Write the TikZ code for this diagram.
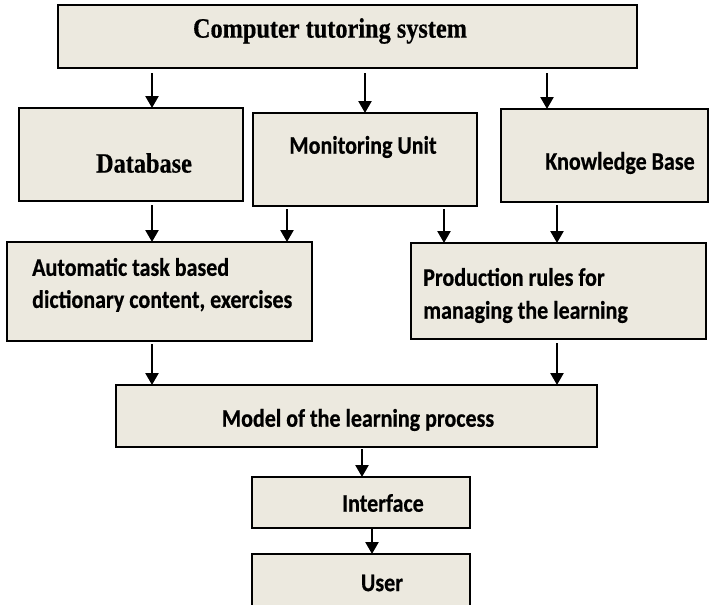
\documentclass[tikz,border=0pt]{standalone}
\usepackage{fontspec}
\setmainfont{Liberation Serif}[BoldFeatures={FakeBold=0.6}]
\newfontfamily\carl{Carlito}[BoldFeatures={FakeBold=0.6}]
\usetikzlibrary{arrows.meta,calc}
\definecolor{boxfill}{RGB}{236,233,223}
% slightly tall lettering
\newcommand{\tallbox}[1]{\scalebox{1}[1.15]{#1}}
\tikzset{
  box/.style={fill=boxfill, draw=black, line width=2pt, inner sep=0pt, outer sep=0pt},
  arr/.style={line width=2.4pt, -{Triangle[length=12pt,width=13pt]}},
  serifbold/.style={font=\fontsize{24.3}{28}\selectfont\bfseries, inner sep=0pt},
  sansbold/.style={font=\carl\fontsize{22}{26}\selectfont\bfseries, inner sep=0pt},
}
\begin{document}
\begin{tikzpicture}[x=1pt,y=-1pt]
\useasboundingbox[fill=white] (0,0) rectangle (710,605);

% boxes
\node[box, minimum width=579pt, minimum height=63pt] (title) at (347.5,36.5) {};
\node[box, minimum width=224pt, minimum height=93pt] (db)    at (131,154.5) {};
\node[box, minimum width=224pt, minimum height=93pt] (mon)   at (365,159.5) {};
\node[box, minimum width=207pt, minimum height=93pt] (kb)    at (604.5,155.5) {};
\node[box, minimum width=305pt, minimum height=99pt] (auto)  at (159.5,291.5) {};
\node[box, minimum width=295pt, minimum height=96pt] (prod)  at (558.5,291) {};
\node[box, minimum width=481pt, minimum height=62pt] (model) at (356.5,416) {};
\node[box, minimum width=218pt, minimum height=51pt] (iface) at (361,502.5) {};
% the user box runs off the lower edge: fill, then three sides
\node[fill=boxfill, inner sep=0pt, outer sep=0pt, minimum width=218pt, minimum height=51pt] (user) at (361,579.5) {};
\draw[line width=2pt] (user.south west) -- (user.north west) -- (user.north east) -- (user.south east);

% labels
\node[serifbold] (ttitle) at (330,31) {\tallbox{Computer tutoring system}};
\node[serifbold] (tdb) at (144,163) {\tallbox{Database}};
\node[sansbold] (tmon) at (363,147) {\tallbox{Monitoring Unit}};
\node[sansbold] (tkb) at (620,163) {\tallbox{Knowledge Base}};
\node[sansbold, anchor=west] (tauto1) at (32,267) {\tallbox{Automatic task based}};
\node[sansbold, anchor=west] (tauto2) at (32,301) {\tallbox{dictionary content, exercises}};
\node[sansbold, anchor=west] (tprod1) at (423,277) {\tallbox{Production rules for}};
\node[sansbold, anchor=west] (tprod2) at (423,312) {\tallbox{managing the learning}};
\node[sansbold] (tmodel) at (358,420) {\tallbox{Model of the learning process}};
\node[sansbold] (tiface) at (383,503) {\tallbox{Interface}};
\node[sansbold] (tuser) at (382,583) {\tallbox{User}};

% arrow columns
\coordinate (c1) at (152,0);
\coordinate (c2) at (365,0);
\coordinate (c3) at (547,0);
\coordinate (c4) at (287,0);
\coordinate (c5) at (444,0);
\coordinate (c6) at (557,0);
\coordinate (c7) at (362,0);
\coordinate (c8) at (372,0);

% connectors
\draw[arr] ($(title.south -| c1)+(0,5)$) -- (db.north -| c1);
\draw[arr] ($(title.south -| c2)+(0,5)$) -- (mon.north -| c2);
\draw[arr] ($(title.south -| c3)+(0,5)$) -- (kb.north -| c3);
\draw[arr] ($(db.south -| c1)+(0,4)$) -- (auto.north -| c1);
\draw[arr] ($(mon.south -| c4)+(0,3)$) -- (auto.north -| c4);
\draw[arr] ($(mon.south -| c5)+(0,3)$) -- (prod.north -| c5);
\draw[arr] ($(kb.south -| c6)+(0,3)$) -- (prod.north -| c6);
\draw[arr] ($(auto.south -| c1)+(0,3)$) -- (model.north -| c1);
\draw[arr] ($(prod.south -| c6)+(0,4)$) -- (model.north -| c6);
\draw[arr] ($(model.south -| c7)+(0,2)$) -- (iface.north -| c7);
\draw[arr] (iface.south -| c8) -- (user.north -| c8);
\end{tikzpicture}
\end{document}
